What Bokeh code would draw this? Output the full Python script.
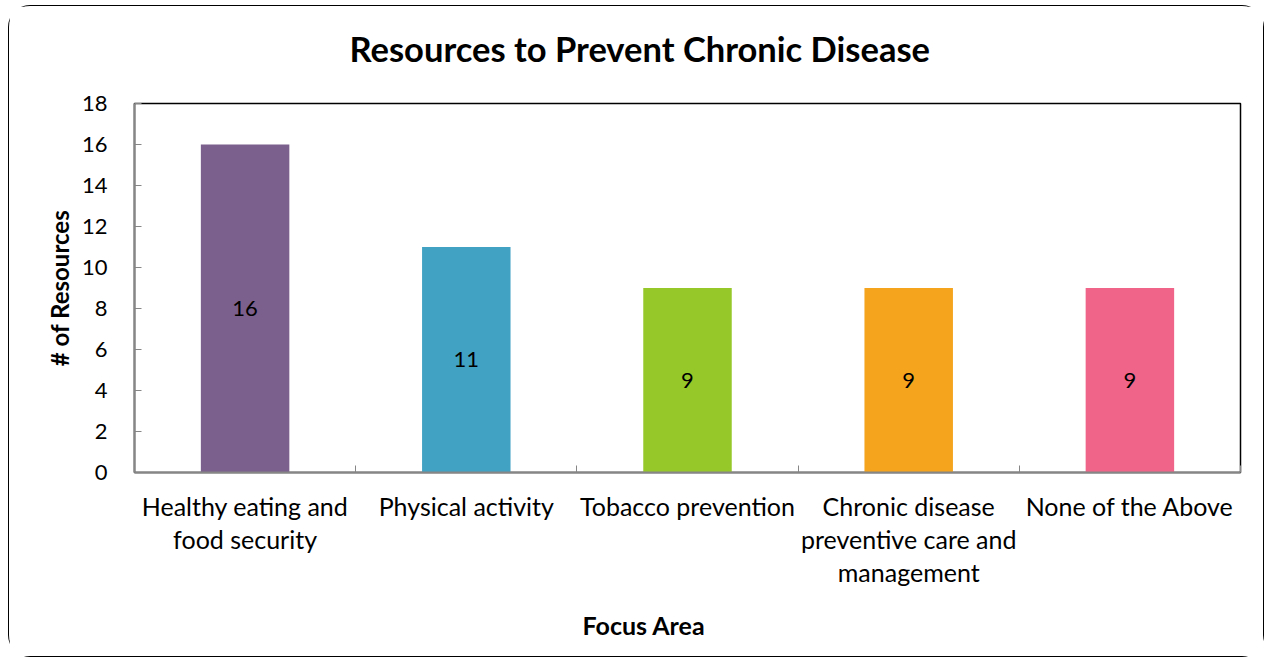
import numpy as np
from bokeh.plotting import figure
from bokeh.models import Range1d, FixedTicker, ColumnDataSource, LabelSet, LinearAxis, Title
from bokeh.core.properties import value
from bokeh.embed import file_html
from bokeh.resources import INLINE

categories = ["Healthy eating and\nfood security", "Physical activity", "Tobacco prevention",
              "Chronic disease\npreventive care and\nmanagement", "None of the Above"]
values = [16, 11, 9, 9, 9]
colors = ["#7B5F8C", "#41A2C4", "#96C82A", "#F4A41D", "#F06489"]
y_ticks = [0, 2, 4, 6, 8, 10, 12, 14, 16, 18]

FONT = "Lato"

xs = np.arange(len(categories)) + 0.5
src = ColumnDataSource(dict(x=xs, top=values, color=colors, mid=[v / 2 for v in values],
                            lbl=[str(v) for v in values]))

p = figure(width=1256, height=652, output_backend="svg", toolbar_location=None, title=None,
           x_range=Range1d(0, len(categories)), y_range=Range1d(0, 18),
           min_border_left=125, min_border_right=25, min_border_top=97, min_border_bottom=186)
p.styles = {"border": "1.5px solid #000", "border-radius": "22px",
            "margin-left": "8px", "margin-top": "5px"}

# small spacer next to the frame, then the chart title
p.add_layout(Title(text=" ", text_font_size="1px", standoff=10), "above")
p.add_layout(Title(text="Resources to Prevent Chronic Disease", align="left",
                   vertical_align="top", text_font=FONT, text_font_style="bold",
                   text_font_size="34.5px", text_color="#000000", standoff=40, offset=215),
             "above")

p.vbar(x="x", top="top", width=0.4, color="color", source=src, line_color=None)

p.add_layout(LabelSet(x="x", y="mid", text="lbl", source=src, text_align="center",
                      text_baseline="middle", text_font_size="22px",
                      text_font=value(FONT), text_color="#000000"))

p.xgrid.grid_line_color = None
p.ygrid.grid_line_color = None
p.outline_line_color = "#000000"
p.outline_line_width = 1.5

# boundary ticks axis (adjacent to frame)
p.xaxis.ticker = FixedTicker(ticks=list(range(len(categories) + 1)))
p.xaxis.major_label_overrides = {i: "" for i in range(len(categories) + 1)}
p.xaxis.major_label_standoff = 0
p.xaxis.major_tick_in = 7
p.xaxis.major_tick_out = 0
p.xaxis.minor_tick_line_color = None
p.xaxis.axis_line_color = "#868686"
p.xaxis.axis_line_width = 2
p.xaxis.major_tick_line_color = "#868686"

# category labels axis
cat_axis = LinearAxis(ticker=FixedTicker(ticks=list(xs)),
                      major_label_overrides={float(x): c for x, c in zip(xs, categories)})
cat_axis.axis_line_color = None
cat_axis.major_tick_line_color = None
cat_axis.minor_tick_line_color = None
cat_axis.major_label_text_font = FONT
cat_axis.major_label_text_font_size = "25px"
cat_axis.major_label_text_color = "#000000"
cat_axis.major_label_text_line_height = 1.1
cat_axis.major_label_standoff = 12
p.add_layout(cat_axis, "below")

p.add_layout(Title(text="Focus Area", align="left", text_font=FONT, text_font_style="bold",
                   text_font_size="25px", text_color="#000000", offset=448, standoff=36),
             "below")

p.yaxis.ticker = FixedTicker(ticks=y_ticks)
p.yaxis.major_tick_in = 7
p.yaxis.major_tick_out = 0
p.yaxis.minor_tick_line_color = None
p.yaxis.axis_line_color = "#868686"
p.yaxis.axis_line_width = 2
p.yaxis.major_tick_line_color = "#868686"
p.yaxis.major_label_text_font = FONT
p.yaxis.major_label_text_font_size = "22px"
p.yaxis.major_label_text_color = "#000000"
p.yaxis.major_label_standoff = 27
p.yaxis.axis_label = "# of Resources"
p.yaxis.axis_label_text_font = FONT
p.yaxis.axis_label_text_font_style = "bold"
p.yaxis.axis_label_text_font_size = "24px"
p.yaxis.axis_label_text_color = "#000000"
p.yaxis.axis_label_standoff = 5

open("out.html", "w").write(file_html(p, INLINE))
